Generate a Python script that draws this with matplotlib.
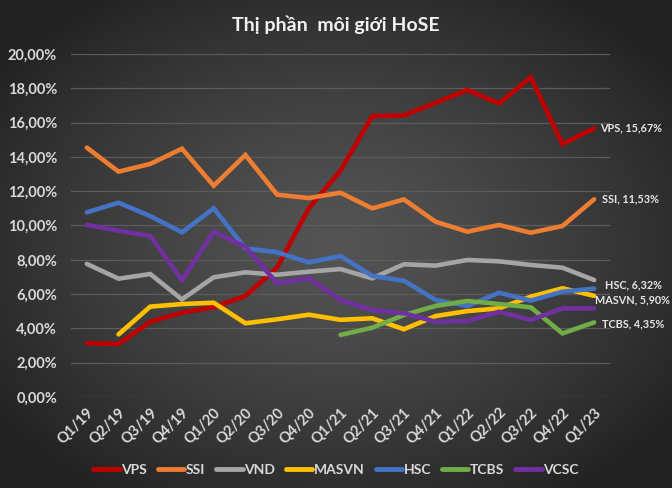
import numpy as np
import matplotlib
matplotlib.use("Agg")
import matplotlib.pyplot as plt
from matplotlib.ticker import FuncFormatter, MultipleLocator

quarters = ["Q1/19", "Q2/19", "Q3/19", "Q4/19", "Q1/20", "Q2/20", "Q3/20", "Q4/20",
            "Q1/21", "Q2/21", "Q3/21", "Q4/21", "Q1/22", "Q2/22", "Q3/22", "Q4/22", "Q1/23"]

vps = [3.13, 3.09, 4.39, 4.92, 5.23, 5.89, 7.55, 11.0, 13.2, 16.38, 16.42, 17.16, 17.9, 17.12, 18.64, 14.75, 15.67]
ssi = [14.54, 13.14, 13.59, 14.48, 12.32, 14.11, 11.8, 11.6, 11.91, 11.0, 11.52, 10.22, 9.64, 10.03, 9.58, 9.97, 11.53]
vnd = [7.76, 6.9, 7.17, 5.69, 6.98, 7.27, 7.13, 7.31, 7.46, 6.92, 7.74, 7.66, 7.99, 7.91, 7.7, 7.54, 6.82]
masvn = [None, 3.65, 5.27, 5.42, 5.5, 4.3, 4.53, 4.8, 4.5, 4.59, 3.95, 4.72, 5.01, 5.17, 5.85, 6.34, 5.90]
hsc = [10.77, 11.33, 10.55, 9.6, 11.0, 8.67, 8.44, 7.85, 8.22, 7.06, 6.78, 5.66, 5.31, 6.08, 5.62, 6.14, 6.32]
tcbs = [None, None, None, None, None, None, None, None, 3.62, 4.04, 4.78, 5.31, 5.6, 5.42, 5.23, 3.71, 4.35]
vcsc = [10.03, 9.7, 9.39, 6.82, 9.64, 8.76, 6.63, 6.92, 5.66, 5.07, 4.88, 4.39, 4.43, 4.97, 4.49, 5.17, 5.17]

series = [
    ("VPS", vps, "#c00000"),
    ("SSI", ssi, "#ed7d31"),
    ("VND", vnd, "#a5a5a5"),
    ("MASVN", masvn, "#ffc000"),
    ("HSC", hsc, "#4472c4"),
    ("TCBS", tcbs, "#70ad47"),
    ("VCSC", vcsc, "#7030a0"),
]
end_labels = {"VPS": (4, 0), "SSI": (6, 0), "HSC": (8, 3), "MASVN": (0.5, -3), "TCBS": (6, -1)}

FONT = ["Lato", "DejaVu Sans"]
plt.rcParams["font.family"] = FONT

W, H = 672, 488
fig = plt.figure(figsize=(W / 100, H / 100), dpi=100)

# radial gradient background
bg = fig.add_axes([0, 0, 1, 1])
yy, xx = np.mgrid[0:H, 0:W]
r = np.sqrt(((xx - W * 0.5) / (W * 0.62)) ** 2 + ((yy - H * 0.5) / (H * 0.62)) ** 2)
r = np.clip(r, 0, 1)
inner, outer = 0x54, 0x22
val = (inner + (outer - inner) * r ** 1.3) / 255.0
img = np.dstack([val, val, val])
bg.imshow(img, aspect="auto", extent=[0, 1, 0, 1], zorder=0)
bg.set_axis_off()

ax = fig.add_axes([71 / W, 91 / H, 539 / W, 343 / H])
ax.set_facecolor("none")
x = np.arange(len(quarters))

for name, vals, color in series:
    v = np.array([np.nan if a is None else a for a in vals], dtype=float)
    ax.plot(x, v, color=color, lw=3.3, solid_capstyle="round", solid_joinstyle="miter",
            label=name, zorder=3)
    if name in end_labels:
        dx, dy = end_labels[name]
        last = v[-1]
        ax.annotate(f"{name}, {last:.2f}%".replace(".", ","), (x[-1], last),
                    xytext=(dx, dy), textcoords="offset points", ha="left", va="center",
                    fontsize=7.8, fontweight="bold", color="#e6e6e6", annotation_clip=False)

ax.set_xlim(-0.5, len(quarters) - 0.5)
ax.set_ylim(0, 20)
ax.yaxis.set_major_locator(MultipleLocator(2))
ax.yaxis.set_major_formatter(FuncFormatter(lambda v, p: f"{v:.2f}%".replace(".", ",")))
ax.grid(axis="y", color="#5c5c5c", lw=0.9, zorder=1)
ax.set_axisbelow(True)
for s in ax.spines.values():
    s.set_visible(False)
ax.tick_params(axis="both", length=0, colors="#d9d9d9")
ax.tick_params(axis="y", pad=10)
for lab in ax.get_yticklabels():
    lab.set_fontsize(10.5)
    lab.set_fontweight("bold")
ax.set_xticks(x)
ax.set_xticklabels(quarters, rotation=45, ha="right", va="top", rotation_mode="anchor",
                   fontsize=10.5, fontweight="bold")
ax.tick_params(axis="x", pad=6)

fig.text(0.5, 1 - 25 / H, "Thị phần  môi giới HoSE", ha="center", va="center",
         fontsize=14, fontweight="bold", color="#f2f2f2")

leg = fig.legend(loc="center", bbox_to_anchor=(0.5, 1 - 470 / H), ncol=7, frameon=False,
                 handlelength=1.9, handletextpad=0.1, columnspacing=0.8,
                 prop={"weight": "bold", "size": 10})
for t in leg.get_texts():
    t.set_color("#d9d9d9")
for h in leg.get_lines():
    h.set_linewidth(3.5)

fig.savefig("out.png", dpi=100)
